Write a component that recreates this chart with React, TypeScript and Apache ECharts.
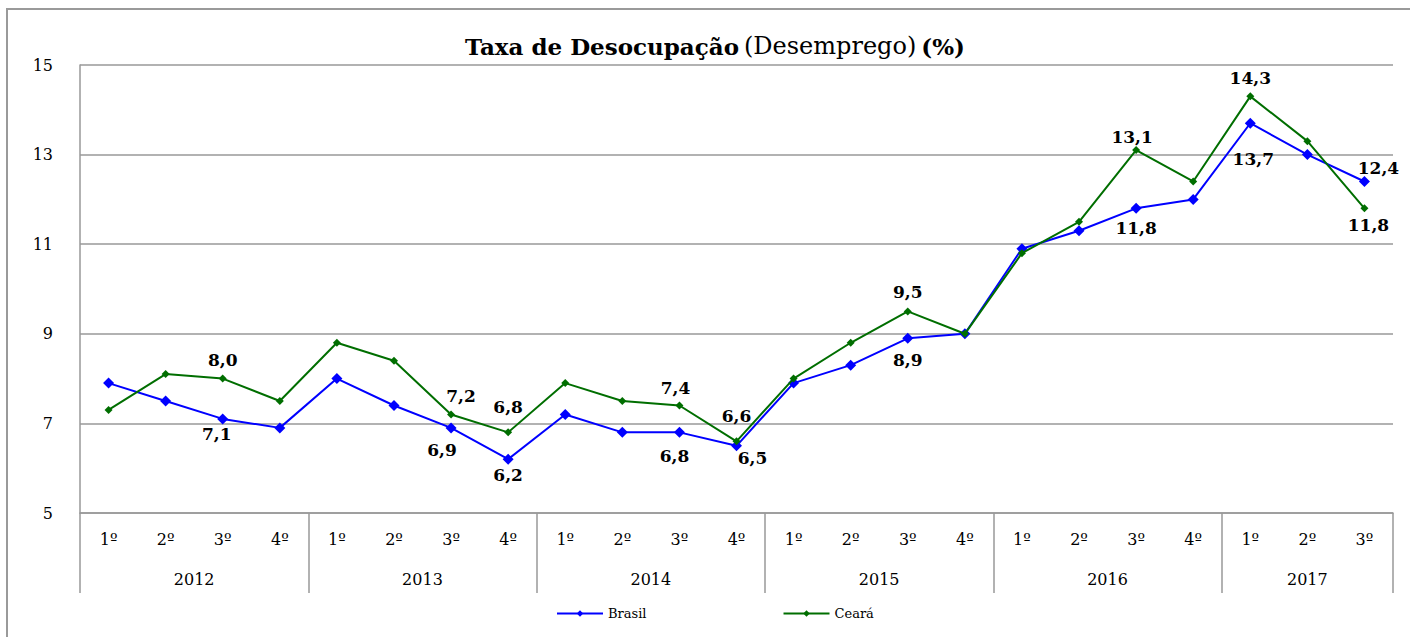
import React, { useEffect, useRef } from 'react';
import * as echarts from 'echarts';

const years = ['2012', '2013', '2014', '2015', '2016', '2017'];
const quartersInYear = [4, 4, 4, 4, 4, 3];
const quarterNames = ['1º', '2º', '3º', '4º'];
const yTickValues = [5, 7, 9, 11, 13, 15];

const brasil = [7.9, 7.5, 7.1, 6.9, 8.0, 7.4, 6.9, 6.2, 7.2, 6.8, 6.8, 6.5, 7.9, 8.3, 8.9, 9.0, 10.9, 11.3, 11.8, 12.0, 13.7, 13.0, 12.4];
const ceara = [7.3, 8.1, 8.0, 7.5, 8.8, 8.4, 7.2, 6.8, 7.9, 7.5, 7.4, 6.6, 8.0, 8.8, 9.5, 9.0, 10.8, 11.5, 13.1, 12.4, 14.3, 13.3, 11.8];

// label placement (offset from the point, px)
const brasilLabelOffsets: Record<number, [number, number]> = {
  2: [-6, 15], 6: [-9, 22], 7: [0, 16], 10: [-5, 24], 11: [16, 12], 14: [0, 22], 18: [0, 20], 20: [3, 36], 22: [14, -13],
};
const cearaLabelOffsets: Record<number, [number, number]> = {
  2: [0, -19], 6: [10, -18], 7: [0, -25], 10: [-4, -17], 11: [0, -25], 14: [0, -19], 18: [-4, -13], 20: [0, -18], 22: [4, 17],
};

const FONT = '"DejaVu Serif", "Liberation Serif", serif';

const categories: string[] = [];
const yearLabelAt: Record<number, { year: string; half: boolean }> = {};
const yearStarts: number[] = [];
years.forEach((y, yi) => {
  const start = categories.length;
  yearStarts.push(start);
  for (let q = 0; q < quartersInYear[yi]; q++) categories.push(`${quarterNames[q]}|${y}`);
  const center = start + (quartersInYear[yi] - 1) / 2;
  yearLabelAt[Math.floor(center)] = { year: y, half: center !== Math.floor(center) };
});

const fmt = (v: number) => v.toFixed(1).replace('.', ',');

function buildData(values: number[], offsets: Record<number, [number, number]>) {
  return values.map((v, i) => {
    const off = offsets[i];
    if (!off) return { value: v, label: { show: false } };
    return {
      value: v,
      label: {
        show: true,
        position: 'inside',
        offset: off,
        formatter: () => fmt(v),
        fontFamily: FONT,
        fontWeight: 'bold',
        fontSize: 17,
        color: '#000',
        align: 'center',
        verticalAlign: 'middle',
      },
    };
  });
}

export default function App() {
  const ref = useRef<HTMLDivElement>(null);
  useEffect(() => {
    if (!ref.current) return;
    const chart = echarts.init(ref.current, undefined, { renderer: 'svg' });
    const option: any = {
      animation: false,
      backgroundColor: '#fff',
      title: {
        text: '{b|Taxa de Desocupação} {n|(Desemprego)} {b|(%)}',
        left: 460,
        top: 29,
        textStyle: {
          rich: {
            b: { fontFamily: FONT, fontWeight: 'bold', fontSize: 23, color: '#000' },
            n: { fontFamily: FONT, fontWeight: 'normal', fontSize: 24, color: '#000' },
          },
        },
      },
      graphic: [
        {
          type: 'rect',
          shape: { x: 7, y: 9, width: 1500, height: 700 },
          style: { fill: 'none', stroke: '#9a9a9a', lineWidth: 2 },
          silent: true,
        },
      ],
      legend: {
        bottom: 12,
        left: 551,
        itemWidth: 46,
        itemHeight: 8,
        itemGap: 136,
        textStyle: { fontFamily: FONT, fontSize: 13, color: '#000' },
        data: ['Brasil', 'Ceará'],
      },
      grid: { left: 80, right: 17, top: 65, bottom: 124, containLabel: false },
      xAxis: [
        {
          type: 'category',
          position: 'bottom',
          data: categories,
          boundaryGap: true,
          axisLine: { show: true, lineStyle: { color: '#999', width: 1.5 } },
          axisTick: { show: false },
          axisLabel: {
            interval: 0,
            margin: 18,
            fontFamily: FONT,
            fontSize: 16,
            color: '#000',
            formatter: (v: string) => v.split('|')[0],
          },
        },
        {
          type: 'category',
          position: 'bottom',
          data: categories,
          boundaryGap: true,
          axisLine: { show: false },
          axisTick: {
            show: true,
            length: 80,
            interval: (i: number) => yearStarts.includes(i),
            lineStyle: { color: '#999', width: 1.5 },
          },
          axisLabel: {
            interval: 0,
            margin: 58,
            fontFamily: FONT,
            fontSize: 16,
            color: '#000',
            formatter: (_v: string, i: number) => {
              const y = yearLabelAt[i];
              if (!y) return '';
              return y.half ? `{h|${y.year}}` : `{f|${y.year}}`;
            },
            rich: {
              h: { fontFamily: FONT, fontSize: 16, color: '#000', padding: [0, 0, 0, 57] },
              f: { fontFamily: FONT, fontSize: 16, color: '#000' },
            },
          },
        },
      ],
      yAxis: {
        type: 'value',
        min: yTickValues[0],
        max: yTickValues[yTickValues.length - 1],
        interval: yTickValues[1] - yTickValues[0],
        axisLine: { show: true, lineStyle: { color: '#999', width: 1.5 } },
        axisTick: { show: false },
        splitLine: { show: true, lineStyle: { color: '#999', width: 1.5 } },
        axisLabel: { margin: 27, fontFamily: FONT, fontSize: 16, color: '#000' },
      },
      series: [
        {
          name: 'Brasil',
          type: 'line',
          xAxisIndex: 0,
          data: buildData(brasil, brasilLabelOffsets),
          symbol: 'diamond',
          symbolSize: 11,
          itemStyle: { color: '#0000ff' },
          lineStyle: { color: '#0000ff', width: 2 },
          z: 3,
        },
        {
          name: 'Ceará',
          type: 'line',
          xAxisIndex: 0,
          data: buildData(ceara, cearaLabelOffsets),
          symbol: 'diamond',
          symbolSize: 8,
          itemStyle: { color: '#006e00' },
          lineStyle: { color: '#006e00', width: 2 },
          z: 4,
        },
      ],
    };
    chart.setOption(option);
    return () => chart.dispose();
  }, []);
  return (
    <div
      ref={ref}
      style={{ position: 'fixed', left: 0, top: 0, width: 1410, height: 637, background: '#fff' }}
    />
  );
}
